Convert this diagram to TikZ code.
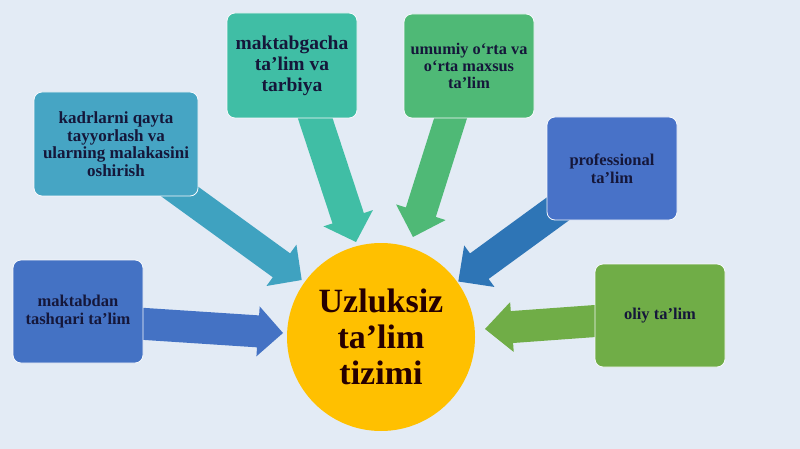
\documentclass[tikz,border=0pt]{standalone}
\usepackage{fontspec}
\setmainfont{Liberation Serif}
\usetikzlibrary{calc}
\definecolor{bg}{HTML}{E3EBF5}
\definecolor{txt}{HTML}{15173A}
\definecolor{cKad}{HTML}{46A5C4}
\definecolor{cKadA}{HTML}{3FA2C0}
\definecolor{cMak}{HTML}{40BEA5}
\definecolor{cUmu}{HTML}{4FB976}
\definecolor{cPro}{HTML}{4872C8}
\definecolor{cProA}{HTML}{2E75B6}
\definecolor{cTas}{HTML}{4472C4}
\definecolor{cOli}{HTML}{70AD47}
\definecolor{gold}{HTML}{FFC000}
\newcommand{\blockarrow}[6]{%
  \coordinate (bh) at ($(#2)!#5!(#1)$);
  \fill[#6] ($(#1)!#3!90:(#2)$) -- ($(bh)!#3!90:(#2)$) -- ($(bh)!#4!90:(#2)$) -- (#2)
    -- ($(bh)!#4!-90:(#2)$) -- ($(bh)!#3!-90:(#2)$) -- ($(#1)!#3!-90:(#2)$) -- cycle;}
\tikzset{
  box/.style={rounded corners=8pt, draw=white!70!bg, line width=0.8pt,
    minimum width=130pt, minimum height=104pt, align=center, inner sep=2pt,
    text=txt, font=\bfseries\fontsize{16.5}{18}\selectfont},
  hub/.style={circle, fill=gold, minimum size=188pt, align=center, text=black!85!red,
    font=\bfseries\fontsize{34}{36}\selectfont}
}
\begin{document}
\begin{tikzpicture}[x=1pt,y=-1pt]
\useasboundingbox (0,0) rectangle (800,449);
\fill[bg] (0,0) rectangle (800,449);
% arrow ends
\coordinate (s1) at (130,323);   \coordinate (t1) at (283,333);
\coordinate (s2) at (605,320.3); \coordinate (t2) at (485,329);
\coordinate (s3) at (169.3,184); \coordinate (t3) at (301.7,280);
\coordinate (s4) at (312.5,110); \coordinate (t4) at (356,242);
\coordinate (s5) at (453,110.5); \coordinate (t5) at (413,237);
\coordinate (s6) at (566,203);   \coordinate (t6) at (458.3,281.5);
\blockarrow{s1}{t1}{16pt}{25pt}{25pt}{cTas}
\blockarrow{s2}{t2}{16pt}{25pt}{27pt}{cOli}
\blockarrow{s3}{t3}{14.75pt}{25.5pt}{25pt}{cKadA}
\blockarrow{s4}{t4}{16.5pt}{26pt}{25pt}{cMak}
\blockarrow{s5}{t5}{15.7pt}{26pt}{26pt}{cUmu}
\blockarrow{s6}{t6}{15.8pt}{25.7pt}{26pt}{cProA}
% boxes
\node[box, fill=cKad, minimum width=164pt, font=\bfseries\fontsize{17}{17.5}\selectfont] (kad) at (116,144)
  {kadrlarni qayta\\tayyorlash va\\ularning malakasini\\oshirish};
\node[box, fill=cMak, minimum height=105pt, font=\bfseries\fontsize{19.5}{21}\selectfont] (mak) at (292,65.5)
  {maktabgacha\\ta’lim va\\tarbiya};
\node[box, fill=cUmu, font=\bfseries\fontsize{16.3}{16.8}\selectfont] (umu) at (469,66)
  {umumiy o‘rta va\\o‘rta maxsus\\ta’lim};
\node[box, fill=cPro, minimum height=103pt] (pro) at (612,168.5)
  {professional\\ta’lim};
\node[box, fill=cTas, minimum height=103pt] (tas) at (78,311.5)
  {maktabdan\\tashqari ta’lim};
\node[box, fill=cOli, minimum height=103pt] (oli) at (660,315.5)
  {oliy ta’lim};
\node[hub] (hub) at (381,337) {Uzluksiz\\ta’lim\\tizimi};
\end{tikzpicture}
\end{document}
